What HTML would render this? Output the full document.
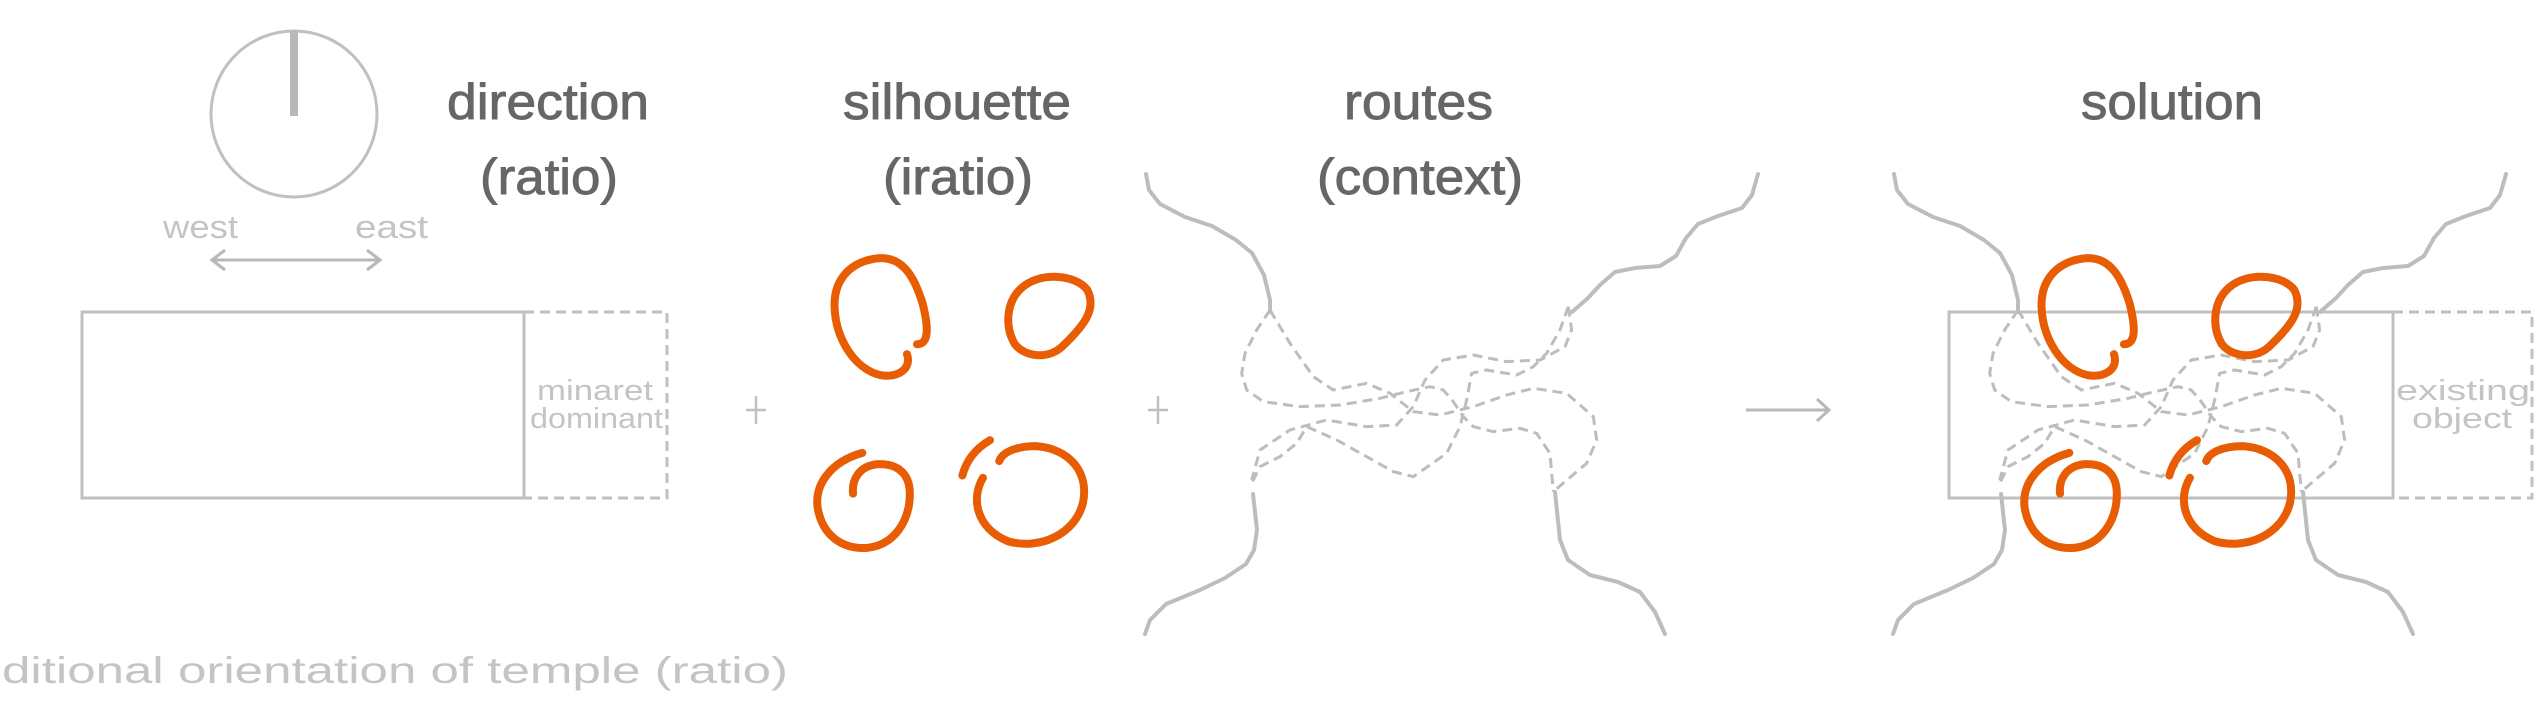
<!DOCTYPE html>
<html><head><meta charset="utf-8"><style>
html,body{margin:0;padding:0;background:#fff;}
svg{display:block;}
.t{font-family:"Liberation Sans",sans-serif;fill:#666;stroke:#666;stroke-width:0.9;}
.l{font-family:"Liberation Sans",sans-serif;fill:#c4c4c4;font-weight:normal;}
</style></head><body>
<svg width="2542" height="702" viewBox="0 0 2542 702" xmlns="http://www.w3.org/2000/svg">
<circle cx="294" cy="114" r="83" fill="none" stroke="#c0c0c0" stroke-width="3"/>
<line x1="294" y1="31" x2="294" y2="116" stroke="#b8b8b8" stroke-width="8"/>
<text class="l" x="163" y="238" font-size="32" textLength="75" lengthAdjust="spacingAndGlyphs">west</text>
<text class="l" x="355" y="238" font-size="32" textLength="73" lengthAdjust="spacingAndGlyphs">east</text>
<g stroke="#b8b8b8" stroke-width="3" fill="none">
<line x1="212" y1="260" x2="380" y2="260"/>
<polyline points="225,250 212,260 225,270"/>
<polyline points="367,250 380,260 367,270"/>
</g>
<text class="t" x="447" y="119" font-size="50" textLength="202" lengthAdjust="spacingAndGlyphs">direction</text>
<text class="t" x="480" y="194" font-size="50" textLength="138" lengthAdjust="spacingAndGlyphs">(ratio)</text>
<text class="t" x="843" y="119" font-size="50" textLength="228" lengthAdjust="spacingAndGlyphs">silhouette</text>
<text class="t" x="883" y="194" font-size="50" textLength="150" lengthAdjust="spacingAndGlyphs">(iratio)</text>
<text class="t" x="1344" y="119" font-size="50" textLength="149" lengthAdjust="spacingAndGlyphs">routes</text>
<text class="t" x="1317" y="194" font-size="50" textLength="206" lengthAdjust="spacingAndGlyphs">(context)</text>
<text class="t" x="2081" y="119" font-size="50" textLength="182" lengthAdjust="spacingAndGlyphs">solution</text>
<rect x="82" y="312" width="442" height="186" fill="none" stroke="#c0c0c0" stroke-width="3"/>
<path d="M524 312 H667 V498 H524" fill="none" stroke="#c0c0c0" stroke-width="3" stroke-dasharray="10 6"/>
<text class="l" x="537" y="400" font-size="29" textLength="116" lengthAdjust="spacingAndGlyphs">minaret</text>
<text class="l" x="530" y="428" font-size="29" textLength="133" lengthAdjust="spacingAndGlyphs">dominant</text>
<g stroke="#c0c0c0" stroke-width="2.5">
<line x1="746" y1="410" x2="766" y2="410"/><line x1="756" y1="396" x2="756" y2="424"/>
<line x1="1148" y1="410" x2="1168" y2="410"/><line x1="1158" y1="396" x2="1158" y2="424"/>
</g>
<g stroke="#b8b8b8" stroke-width="3" fill="none">
<line x1="1746" y1="410" x2="1829" y2="410"/>
<polyline points="1817,399 1829,410 1817,421"/>
</g>
<text class="l" x="2" y="683" font-size="37" textLength="786" lengthAdjust="spacingAndGlyphs">ditional orientation of temple (ratio)</text>

<defs>
<g id="routes">
<g fill="none" stroke="#bdbdbd" stroke-width="4" stroke-linejoin="round" stroke-linecap="round">
<polyline points="1146,174 1149,190 1160,204 1185,217 1212,226 1236,240 1252,253 1264,275 1270,300 1270,312"/>
<polyline points="1253,494 1257,530 1254,550 1246,564 1225,578 1200,590 1166,604 1150,620 1145,634"/>
<polyline points="1758,174 1752,195 1742,208 1718,216 1698,224 1686,238 1676,256 1660,266 1635,268 1615,272 1600,285 1588,298 1572,312"/>
<polyline points="1555,492 1560,540 1568,560 1590,575 1618,582 1640,592 1655,612 1665,634"/>
</g>
<g transform="translate(1240,300) scale(0.3333)" fill="none" stroke="#bdbdbd" stroke-width="3" stroke-dasharray="10 6" stroke-linejoin="round">
<polyline vector-effect="non-scaling-stroke" points="90,30 50,90 15,160 5,220 20,270 70,305 180,320 300,315 420,295 500,275 570,260 610,270 640,305 670,350 700,380 760,395 840,385 890,400 930,460 940,575"/>
<polyline vector-effect="non-scaling-stroke" points="90,30 150,130 220,230 280,270 380,250 450,280 520,335 600,345 700,320 800,285 880,265 980,280 1060,350 1070,420 1040,490 940,575"/>
<polyline vector-effect="non-scaling-stroke" points="985,20 995,90 975,140 900,180 800,185 700,165 610,180 555,240 520,320 470,375 380,380 260,360 150,390 60,450 35,540"/>
<polyline vector-effect="non-scaling-stroke" points="985,20 960,90 920,160 880,200 830,225 740,210 695,220 680,300 660,380 620,460 520,530 460,515 380,470 290,420 200,380 170,430 120,470 60,500 35,550"/>
</g>
</g>
<g id="loops" fill="none" stroke="#e85d04" stroke-width="8" stroke-linecap="round" stroke-linejoin="round" transform="scale(0.7097,0.4529)">
<path vector-effect="non-scaling-stroke" d="M1278,782 C1285,815 1265,835 1240,828 C1205,815 1178,750 1176,680 C1174,615 1200,575 1240,570 C1275,568 1290,620 1300,670 C1308,720 1310,760 1292,760"/>
<path vector-effect="non-scaling-stroke" d="M1500,760 C1480,795 1445,790 1430,760 C1415,720 1418,665 1440,635 C1465,600 1515,605 1532,640 C1545,680 1530,715 1500,760"/>
<path vector-effect="non-scaling-stroke" d="M1215,1000 C1170,1020 1148,1070 1152,1120 C1158,1180 1185,1212 1220,1210 C1260,1205 1282,1150 1282,1090 C1282,1040 1260,1022 1235,1025 C1210,1030 1200,1060 1202,1090"/>
<path vector-effect="non-scaling-stroke" d="M1395,972 C1375,990 1362,1015 1356,1050"/>
<path vector-effect="non-scaling-stroke" d="M1385,1055 C1368,1100 1375,1165 1420,1195 C1465,1215 1515,1180 1526,1110 C1535,1040 1505,990 1460,985 C1430,985 1412,1000 1408,1018"/>
</g>
</defs>
<use href="#routes"/>
<use href="#loops"/>
<rect x="1949" y="312" width="444" height="186" fill="none" stroke="#c0c0c0" stroke-width="3"/>
<path d="M2393 312 H2532 V498 H2393" fill="none" stroke="#c0c0c0" stroke-width="3" stroke-dasharray="10 6"/>
<text class="l" x="2396" y="400" font-size="29" textLength="134" lengthAdjust="spacingAndGlyphs">existing</text>
<text class="l" x="2412" y="428" font-size="29" textLength="100" lengthAdjust="spacingAndGlyphs">object</text>
<use href="#routes" transform="translate(748,0)"/>
<use href="#loops" transform="translate(1207,0)"/>
</svg>
</body></html>
